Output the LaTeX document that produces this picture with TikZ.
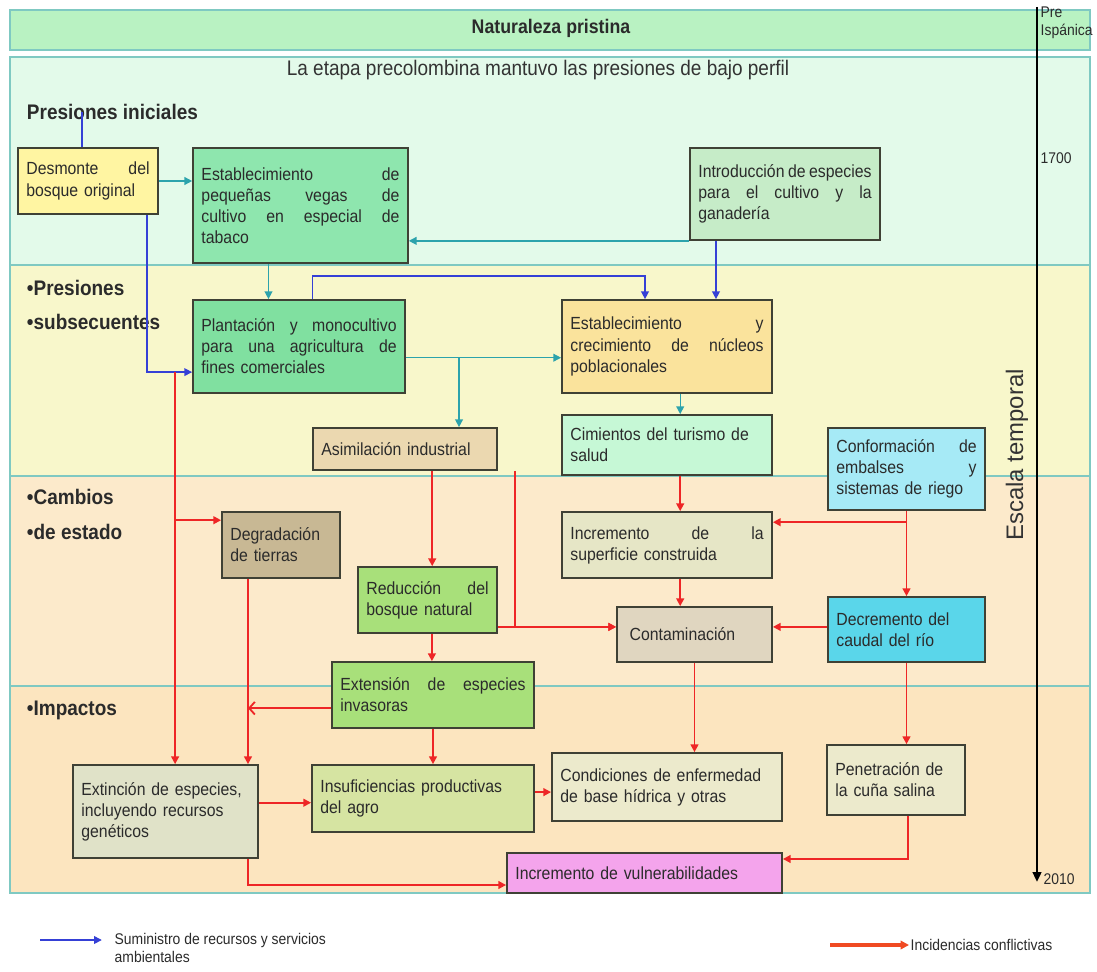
\documentclass[tikz,border=0pt]{standalone}
\usepackage{fontspec}
\setmainfont{Liberation Sans}[FakeStretch=0.9]
\newfontfamily\widefont{Liberation Sans}
\usetikzlibrary{arrows.meta}

\begin{document}
\begin{tikzpicture}[
    every node/.style={font=\fontsize{12.5}{15}\selectfont, text=labelcolor},
    % pixel grid of the original sheet: 1097 x 972, y running downwards
    x=0.025cm, y=-0.025cm,
]

% ---------------------------------------------------------------- colours
\definecolor{labelcolor}{HTML}{2B2B2B}
\definecolor{bandline}{HTML}{7FC9C2}
\definecolor{topband}{HTML}{B9F2C2}
\definecolor{band1}{HTML}{E3FAEA}
\definecolor{band2}{HTML}{F8F7CB}
\definecolor{band3}{HTML}{FCEACB}
\definecolor{band4}{HTML}{FCE5BF}
\definecolor{feedcol}{HTML}{2CA3AC}
\definecolor{supplycol}{HTML}{3540D6}
\definecolor{conflictcol}{HTML}{EE2626}
\definecolor{legendred}{HTML}{F04A22}
\definecolor{boxline}{HTML}{3F4135}
\definecolor{cdesmonte}{HTML}{FFF5A2}
\definecolor{cvegas}{HTML}{8EE6AE}
\definecolor{cintro}{HTML}{C6ECC8}
\definecolor{cplanta}{HTML}{80E0A0}
\definecolor{cnucleos}{HTML}{FAE39C}
\definecolor{casimila}{HTML}{EBD8B0}
\definecolor{ccimientos}{HTML}{C6F8D6}
\definecolor{cembalses}{HTML}{A6EAF6}
\definecolor{cdegrada}{HTML}{C8B894}
\definecolor{cbosque}{HTML}{A8E07A}
\definecolor{cincremento}{HTML}{E6E6C6}
\definecolor{ccontamina}{HTML}{E0D6C0}
\definecolor{ccaudal}{HTML}{5AD6EA}
\definecolor{cextincion}{HTML}{E0E2C8}
\definecolor{cagro}{HTML}{D6E4A2}
\definecolor{cpale}{HTML}{ECEACC}
\definecolor{cvulnera}{HTML}{F4A4EC}

\tikzset{
    band/.style={draw=bandline, line width=1pt},
    box/.style={draw=boxline, line width=1.2pt, rectangle, align=left,
                inner xsep=6pt, inner ysep=3pt},
    heading/.style={font=\fontsize{15}{17}\selectfont\bfseries, anchor=west},
    feed/.style={-{Triangle[length=5.5pt, width=5.5pt]}, feedcol, line width=1pt},
    supply/.style={-{Triangle[length=5.5pt, width=5.5pt]}, supplycol, line width=1pt},
    conflict/.style={-{Triangle[length=5.5pt, width=5.5pt]}, conflictcol, line width=1.3pt},
    barbed/.style={-{Straight Barb[length=4pt, width=9pt]}, conflictcol, line width=1.3pt},
    timeline/.style={-{Triangle[length=7pt, width=6pt]}, black, line width=2pt},
    small/.style={font=\fontsize{11}{12.8}\selectfont},
}

\useasboundingbox (0,0) rectangle (1097,972);
\fill[white] (0,0) rectangle (1097,972);

% ---------------------------------------------------------------- bands
\draw[band, fill=topband] (10,10) rectangle (1090,50);
\draw[band, fill=band1] (10,57) rectangle (1090,265);
\draw[band, fill=band2] (10,265) rectangle (1090,476);
\draw[band, fill=band3] (10,476) rectangle (1090,686);
\draw[band, fill=band4] (10,686) rectangle (1090,893);

\node[font=\fontsize{14}{16}\selectfont\bfseries] (pristina) at (551,28) {Naturaleza pristina};
\node[font=\fontsize{15}{17}\selectfont, text=black!80] (precol) at (538,70)
    {La etapa precolombina mantuvo las presiones de bajo perfil};

\node[heading] (pini) at (22,112) {Presiones iniciales};
\node[heading] (psub1) at (22,288) {•Presiones};
\node[heading] (psub2) at (22,322) {•subsecuentes};
\node[heading] (cest1) at (22,497) {•Cambios};
\node[heading] (cest2) at (22,532) {•de estado};
\node[heading] (impac) at (22,710) {•Impactos};

% ---------------------------------------------------------------- time scale
\coordinate (axtop) at (1037,7);
\coordinate (axbot) at (1037,882);
\draw[timeline] (axtop) -- (axbot);
\node[small, anchor=north west, align=left, inner sep=1pt] (prehisp) at (1039,5) {Pre\\Ispánica};
\node[small, anchor=west, inner sep=1pt] (y1700) at (1039,158) {1700};
\node[small, anchor=west, inner sep=1pt] (y2010) at (1042,879) {2010};
\node[font=\widefont\fontsize{17}{19}\selectfont, text=black!80, rotate=90] (escala)
    at (1017,455) {Escala temporal};

% ---------------------------------------------------------------- presiones iniciales
\node[box, fill=cdesmonte, text width=3.08cm, minimum height=1.65cm] (desmonte) at (88,181)
    {Desmonte\hfill del\\bosque original};
\node[box, fill=cvegas, text width=4.95cm, minimum height=2.875cm] (vegas) at (300.5,205.5)
    {Establecimiento\hfill de\\pequeñas\hfill vegas\hfill de\\cultivo\hfill en\hfill especial\hfill de\\tabaco};
\node[box, fill=cintro, text width=4.33cm, minimum height=2.3cm] (intro) at (785,194)
    {Introducción\hfill de\hfill especies\\para\hfill el\hfill cultivo\hfill y\hfill la\\ganadería};

% ---------------------------------------------------------------- presiones subsecuentes
\node[box, fill=cplanta, text width=4.88cm, minimum height=2.325cm] (planta) at (299,346.5)
    {Plantación\hfill y\hfill monocultivo\\para\hfill una\hfill agricultura\hfill de\\fines comerciales};
\node[box, fill=cnucleos, text width=4.83cm, minimum height=2.325cm] (nucleos) at (667,346.5)
    {Establecimiento\hfill y\\crecimiento\hfill de\hfill núcleos\\poblacionales};
\node[box, fill=casimila, text width=4.18cm, minimum height=1.05cm] (asimila) at (405,449)
    {Asimilación industrial};
\node[box, fill=ccimientos, text width=4.83cm, minimum height=1.5cm] (cimientos) at (667,445)
    {Cimientos del turismo de\\salud};
\node[box, fill=cembalses, text width=3.505cm, minimum height=2.05cm] (embalses) at (906.5,469)
    {Conformación\hfill de\\embalses\hfill y\\sistemas de riego};

% ---------------------------------------------------------------- cambios de estado
\node[box, fill=cdegrada, text width=2.53cm, minimum height=1.65cm] (degrada) at (281,545)
    {Degradación\\de tierras};
\node[box, fill=cbosque, text width=3.055cm, minimum height=1.65cm] (bosque) at (427.5,600)
    {Reducción\hfill del\\bosque natural};
\node[box, fill=cincremento, text width=4.83cm, minimum height=1.65cm] (construida) at (667,545)
    {Incremento\hfill de\hfill la\\superficie construida};
\node[box, fill=ccontamina, text width=3.455cm, minimum height=1.375cm] (contamina) at (694.5,634.5)
    {\hspace*{3pt}Contaminación};
\node[box, fill=ccaudal, text width=3.505cm, minimum height=1.625cm] (caudal) at (906.5,629.5)
    {Decremento del\\caudal del río};

% ---------------------------------------------------------------- impactos
\node[box, fill=cbosque, text width=4.63cm, minimum height=1.65cm] (invasoras) at (433,695)
    {Extensión\hfill de\hfill especies\\invasoras};
\node[box, fill=cextincion, text width=4.205cm, minimum height=2.325cm] (extincion) at (165.5,811.5)
    {Extinción de especies,\\incluyendo recursos\\genéticos};
\node[box, fill=cagro, text width=5.13cm, minimum height=1.675cm] (agro) at (423,798.5)
    {Insuficiencias productivas\\del agro};
\node[box, fill=cpale, text width=5.33cm, minimum height=1.7cm] (hidrica) at (667,787)
    {Condiciones de enfermedad\\de base hídrica y otras};
\node[box, fill=cpale, text width=3.03cm, minimum height=1.75cm] (salina) at (896,780)
    {Penetración de\\la cuña salina};
\node[box, fill=cvulnera, text width=6.455cm, minimum height=1.0cm] (vulnera) at (644.5,873)
    {Incremento de vulnerabilidades};

% ---------------------------------------------------------------- supply lines (blue)
\draw[supplycol, line width=1pt] ([xshift=-0.15cm]desmonte.north) -- ([xshift=-0.15cm]desmonte.north |- pini.center);
\coordinate (plantain) at ([yshift=-0.64cm]planta.west);
\draw[supply] ([xshift=1.475cm]desmonte.south) |- (plantain);
\draw[supply] ([xshift=-1.725cm]intro.south) -- ([xshift=-1.725cm]intro.south |- nucleos.north);
\draw[supply] ([xshift=0.33cm]planta.north) -- ++(0,-23) -| ([xshift=-0.55cm]nucleos.north);

% ---------------------------------------------------------------- feeds (teal)
\draw[feed] (desmonte.east) -- (desmonte.east -| vegas.west);
\draw[feed] (intro.south west) -- (intro.south west -| vegas.east);
\draw[feed] ([xshift=-0.8cm]vegas.south) -- ([xshift=-0.8cm]vegas.south |- planta.north);
\coordinate (plantaout) at ([yshift=-0.28cm]planta.east);
\draw[feed] (plantaout) -- (plantaout -| nucleos.west);
\draw[feed] ([xshift=1.35cm]asimila.north |- plantaout) -- ([xshift=1.35cm]asimila.north);
\draw[feed] ([xshift=0.33cm]nucleos.south) -- ([xshift=0.33cm]nucleos.south |- cimientos.north);

% ---------------------------------------------------------------- conflicts (red)
\coordinate (redtop) at ([xshift=0.24cm]extincion.north |- plantain);
\draw[conflict] (redtop) -- (redtop |- extincion.north);
\draw[conflict] ([yshift=0.62cm]redtop |- degrada.west) -- ([yshift=0.62cm]degrada.west);
\coordinate (degfoot) at ([xshift=-0.825cm]degrada.south);
\draw[conflict] (degfoot) -- (degfoot |- extincion.north);
\draw[barbed] ([yshift=-0.33cm]invasoras.west) -- ([yshift=-0.33cm]invasoras.west -| degfoot);

\draw[conflict] ([xshift=0.68cm]asimila.south) -- ([xshift=0.68cm]asimila.south |- bosque.north);
\draw[conflict] ([xshift=2.75cm]asimila.south) |- ([yshift=0.19cm]contamina.west);
\draw[conflict] ([yshift=0.19cm]contamina.west -| bosque.east) -- ([yshift=0.19cm]contamina.west);
\draw[conflict] ([xshift=0.11cm]bosque.south) -- ([xshift=0.11cm]bosque.south |- invasoras.north);
\draw[conflict] (invasoras.south) -- (invasoras.south |- agro.north);

\draw[conflict] ([xshift=0.33cm]cimientos.south) -- ([xshift=0.33cm]cimientos.south |- construida.north);
\draw[conflict] (embalses.south) -- (embalses.south |- caudal.north);
\draw[conflict] ([yshift=0.57cm]construida.east -| embalses.south) -- ([yshift=0.57cm]construida.east);
\draw[conflict] ([xshift=0.33cm]construida.south) -- ([xshift=0.33cm]construida.south |- contamina.north);
\draw[conflict] ([yshift=0.19cm]contamina.east -| caudal.west) -- ([yshift=0.19cm]contamina.east);
\draw[conflict] (contamina.south) -- (contamina.south |- hidrica.north);
\draw[conflict] (caudal.south) -- (caudal.south |- salina.north);

\draw[conflict] ([yshift=0.22cm]extincion.east) -- ([yshift=0.22cm]extincion.east -| agro.west);
\draw[conflict] ([yshift=0.16cm]agro.east) -- ([yshift=0.16cm]agro.east -| hidrica.west);
\draw[conflict] ([xshift=2.06cm]extincion.south) |- ([yshift=-0.3cm]vulnera.west);
\draw[conflict] ([xshift=0.3cm]salina.south) |- ([yshift=0.35cm]vulnera.east);

% ---------------------------------------------------------------- legend
\node[small, anchor=north west, align=left, inner sep=1pt] (legsup) at (113,932)
    {Suministro de recursos y servicios\\ambientales};
\coordinate (legsupstart) at (40,940);
\draw[supply] (legsupstart) -- ([xshift=-0.28cm]legsupstart -| legsup.west);
\node[small, anchor=west, inner sep=1pt] (legcon) at (909,945) {Incidencias conflictivas};
\coordinate (legconstart) at (830,945);
\draw[-{Triangle[length=6pt, width=6pt]}, legendred, line width=2.4pt] (legconstart) -- (legconstart -| legcon.west);

\end{tikzpicture}
\end{document}
